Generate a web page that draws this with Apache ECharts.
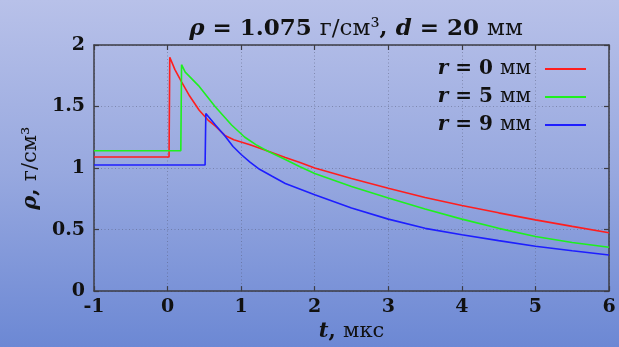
<!DOCTYPE html>
<html><head><meta charset="utf-8">
<script src="https://cdn.jsdelivr.net/npm/echarts@6/dist/echarts.min.js"></script>
<style>
html,body{margin:0;padding:0;}
body{width:619px;height:347px;background:linear-gradient(to bottom,#b8c1e9 0%,#97a8df 50%,#6c88d4 100%);}
#c{width:619px;height:347px;}
</style></head>
<body><div id="c"></div>
<script>
// Data
const tRed   = [-1, 0.02, 0.03, 0.1, 0.19, 0.3, 0.43, 0.55, 0.65, 0.78, 0.9, 1.12, 1.35, 1.6, 1.8, 2, 2.5, 3, 3.5, 4, 4.5, 5, 5.5, 6];
const rhoRed = [1.09, 1.09, 1.90, 1.80, 1.70, 1.585, 1.47, 1.39, 1.34, 1.265, 1.23, 1.19, 1.14, 1.085, 1.045, 1.00, 0.915, 0.836, 0.76, 0.696, 0.636, 0.579, 0.526, 0.474];
const tGreen   = [-1, 0.18, 0.19, 0.24, 0.42, 0.645, 0.87, 1.05, 1.2, 1.35, 1.6, 1.8, 2, 2.5, 3, 3.5, 4, 4.5, 5, 5.5, 6];
const rhoGreen = [1.14, 1.14, 1.84, 1.78, 1.67, 1.50, 1.35, 1.25, 1.19, 1.14, 1.07, 1.01, 0.955, 0.85, 0.757, 0.668, 0.585, 0.51, 0.444, 0.395, 0.357];
const tBlue   = [-1, 0.51, 0.52, 0.65, 0.78, 0.89, 1.0, 1.12, 1.25, 1.415, 1.6, 2, 2.5, 3, 3.5, 4, 4.5, 5, 5.5, 6];
const rhoBlue = [1.025, 1.025, 1.444, 1.35, 1.26, 1.175, 1.11, 1.048, 0.99, 0.935, 0.875, 0.783, 0.675, 0.585, 0.51, 0.458, 0.41, 0.365, 0.328, 0.294];
const seriesNames = ['r0', 'r5', 'r9'];
const legendValues = ['0', '5', '9'];
const xTicks = {min: -1, max: 6, interval: 1};
const yTicks = {min: 0, max: 2, interval: 0.5};

const zip = (a, b) => a.map((v, i) => [v, b[i]]);
const F = 'DejaVu Serif';
const frame = {show: true, onZero: false, lineStyle: {color: '#3c3c44', width: 1.5}};
const tick = {show: true, inside: true, length: 5, lineStyle: {color: '#3c3c44', width: 1.2}};
const split = {show: true, lineStyle: {color: 'rgba(80,85,110,0.45)', type: [1, 2.5], width: 1}};
const lbl = {fontFamily: F, fontWeight: 'bold', fontSize: 19, color: '#111'};
const richMath = (sz) => ({
  i: {fontFamily: F, fontStyle: 'italic', fontWeight: 'bold', fontSize: sz, color: '#111', lineHeight: sz + 2},
  b: {fontFamily: F, fontWeight: 'bold', fontSize: sz, color: '#111', lineHeight: sz + 2},
  n: {fontFamily: F, fontWeight: 'normal', fontSize: sz, color: '#111', lineHeight: sz + 2}
});

const chart = echarts.init(document.getElementById('c'), null, {renderer: 'canvas'});
chart.setOption({
  backgroundColor: 'transparent',
  animation: false,
  title: {
    text: '{i|ρ}{b| = 1.075 }{n|г/см³}{b|, }{i|d}{b| = 20 }{n|мм}',
    left: 351, top: 12, textAlign: 'center',
    textStyle: {rich: richMath(23)}
  },
  legend: {
    orient: 'vertical', right: 28, top: 54, align: 'right',
    icon: 'rect', itemWidth: 41, itemHeight: 2, itemGap: 8,
    data: seriesNames,
    formatter: function (name) {
      const v = legendValues[seriesNames.indexOf(name)];
      return '{i|r}{b| = ' + v + ' }{n|мм}';
    },
    textStyle: {padding: [0, 9, 0, 0], rich: richMath(20)}
  },
  grid: {left: 94, right: 10, top: 45, bottom: 50, containLabel: false},
  xAxis: [{
    type: 'value', min: xTicks.min, max: xTicks.max, interval: xTicks.interval,
    axisLine: frame, axisTick: tick, splitLine: split,
    axisLabel: Object.assign({margin: 6}, lbl),
    name: '{i|t}{b|, }{n|мкс}', nameLocation: 'middle', nameGap: 25,
    nameTextStyle: {rich: richMath(21)}
  }, {
    type: 'value', position: 'top', min: xTicks.min, max: xTicks.max, interval: xTicks.interval,
    axisLine: frame, axisTick: tick, splitLine: {show: false}, axisLabel: {show: false}
  }],
  yAxis: [{
    type: 'value', min: yTicks.min, max: yTicks.max, interval: yTicks.interval,
    axisLine: frame, axisTick: tick, splitLine: split,
    axisLabel: Object.assign({margin: 9}, lbl),
    name: '{i|ρ}{b|, }{n|г/см³}', nameLocation: 'middle', nameGap: 45, nameRotate: 90,
    nameTextStyle: {rich: richMath(21)}
  }, {
    type: 'value', position: 'right', min: yTicks.min, max: yTicks.max, interval: yTicks.interval,
    axisLine: frame, axisTick: tick, splitLine: {show: false}, axisLabel: {show: false}
  }],
  series: [
    {name: 'r0', type: 'line', data: zip(tRed, rhoRed), symbol: 'none', lineStyle: {color: '#ff1e1e', width: 1.6}, itemStyle: {color: '#ff1e1e'}},
    {name: 'r5', type: 'line', data: zip(tGreen, rhoGreen), symbol: 'none', lineStyle: {color: '#1ef01e', width: 1.6}, itemStyle: {color: '#1ef01e'}},
    {name: 'r9', type: 'line', data: zip(tBlue, rhoBlue), symbol: 'none', lineStyle: {color: '#1e1eff', width: 1.6}, itemStyle: {color: '#1e1eff'}}
  ]
});
</script></body></html>
